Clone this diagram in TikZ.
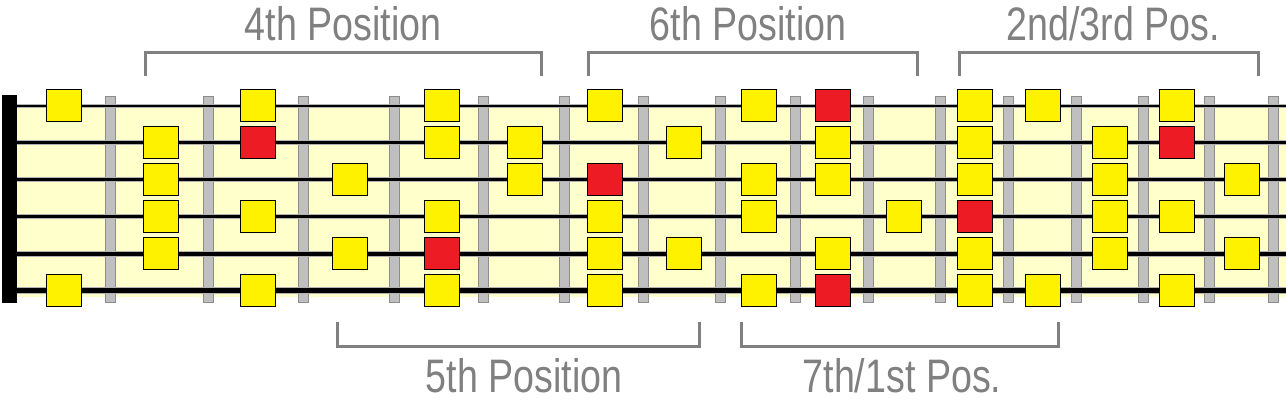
\documentclass[tikz,border=0pt]{standalone}
\usepackage{fontspec}
\setmainfont{Liberation Sans}[FakeStretch=0.8]
\usepackage{xcolor}
\usepackage{tikz}
\usetikzlibrary{positioning}
\definecolor{board}{HTML}{FFFFCC}
\definecolor{fretgray}{HTML}{BFBFBF}
\definecolor{fretedge}{HTML}{8C8C8C}
\definecolor{noteyel}{HTML}{FFF200}
\definecolor{notered}{HTML}{ED1C24}
\definecolor{labelgray}{HTML}{808080}
\tikzset{
  note/.style={draw=black, line width=1pt, fill=noteyel, minimum width=35pt, minimum height=32pt, inner sep=0pt},
  root/.style={note, fill=notered},
  fret/.style={draw=fretedge, fill=fretgray, line width=1pt},
  bracket/.style={draw=labelgray, line width=3pt},
  poslabel/.style={text=labelgray, font=\fontsize{47}{52}\selectfont, inner sep=0pt, anchor=base}
}

\begin{document}
\begin{tikzpicture}[x=1pt, y=-1pt]
  \useasboundingbox (0,0) rectangle (1286,400);

  % board, nut and frets
  \fill[board] (17,107) rectangle (1286,297);
  \fill[black] (2,95) rectangle (17,303);
  \foreach \x in {110,208,303,394,483,564,643,720,795,868,940,1008,1076,1143,1209,1273}
    \filldraw[fret] (\x-5,96) rectangle (\x+5,302.5);

  % strings
  \foreach \s/\w in {1/2,2/2.5,3/3,4/3.5,5/4,6/5} {
    \pgfmathsetmacro\sy{105.5+37*(\s-1)}
    \pgfmathsetmacro\ws{\w+2}
    \draw[black!30, line width=\ws pt] (17,\sy) -- (1286,\sy);
    \draw[black, line width=\w pt] (17,\sy) -- (1286,\sy);
  }

  % scale notes
  \foreach \s/\fl in {1/{1,3,5,7,9,12,13,15}, 2/{2,5,6,8,10,12,14}, 3/{2,4,6,9,10,12,14,16},
                      4/{2,3,5,7,9,11,14,15}, 5/{2,4,7,8,10,12,14,16}, 6/{1,3,5,7,9,12,13,15}}
    \foreach \f in \fl {
      \pgfmathsetmacro\nx{{64,161,258,350,442,525,605,684,759,833,904,975,1043,1110,1177,1242}[\f-1]}
      \node[note] (n\s-\f) at (\nx,{105.5+37*(\s-1)}) {};
    }
  % roots
  \foreach \s/\f in {1/10, 2/3, 2/15, 3/7, 4/12, 5/5, 6/10} {
    \pgfmathsetmacro\nx{{64,161,258,350,442,525,605,684,759,833,904,975,1043,1110,1177,1242}[\f-1]}
    \node[root] (r\s-\f) at (\nx,{105.5+37*(\s-1)}) {};
  }

  % positions above
  \draw[bracket] (145,76) |- (541,52.5) -- (541,76);
  \draw[bracket] (588,76) |- (917,52.5) -- (917,76);
  \draw[bracket] (959,76) |- (1258,52.5) -- (1258,76);
  \node[poslabel] (pos4) at (343,40) {4th Position};
  \node[poslabel] (pos6) at (748,40) {6th Position};
  \node[poslabel] (pos23) at (1113,40) {2nd/3rd Pos.};

  % positions below
  \draw[bracket] (337,322) |- (699,346) -- (699,322);
  \draw[bracket] (741,322) |- (1058,346) -- (1058,322);
  \node[poslabel] (pos5) at (524,392) {5th Position};
  \node[poslabel] (pos71) at (902,392) {7th/1st Pos.};
\end{tikzpicture}
\end{document}
